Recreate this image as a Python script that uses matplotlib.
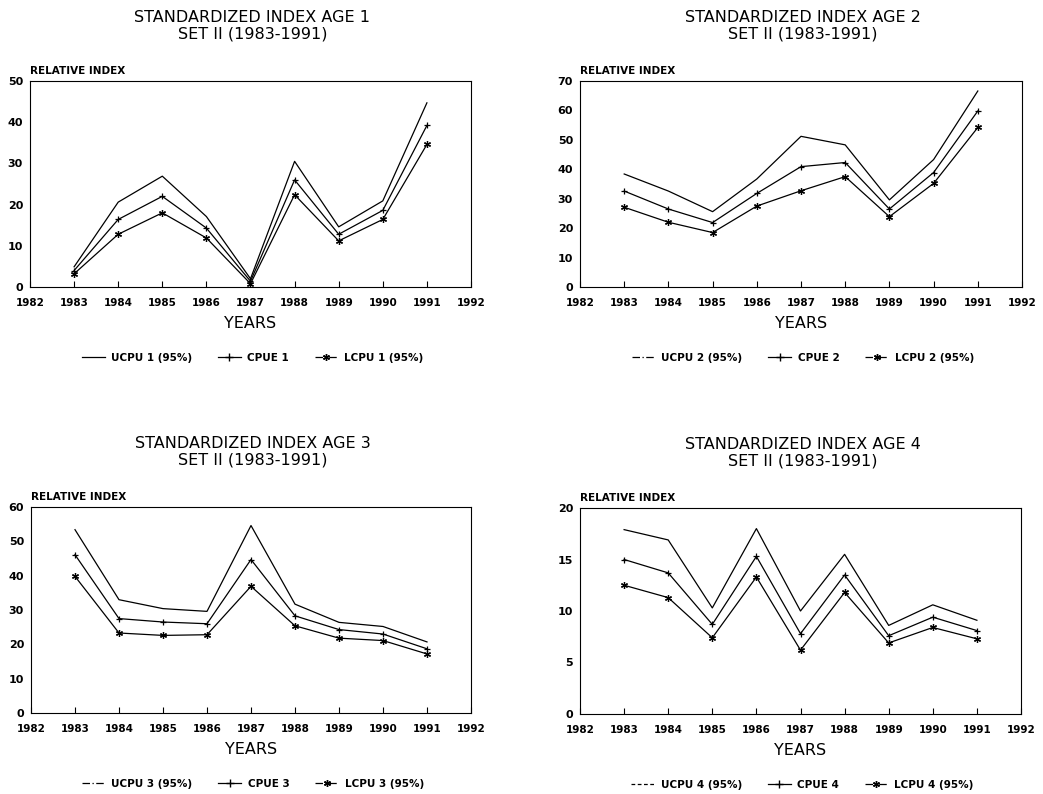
import matplotlib.pyplot as plt
from matplotlib.lines import Line2D

plt.rcParams['font.family'] = ['DejaVu Sans']

years = [1983, 1984, 1985, 1986, 1987, 1988, 1989, 1990, 1991]
xticks = list(range(1982, 1993))

ucpu1 = [4.9, 20.6, 26.9, 17.1, 2.0, 30.5, 14.6, 20.9, 44.7]
cpue1 = [4.0, 16.4, 22.0, 14.3, 1.4, 26.0, 12.8, 18.6, 39.2]
lcpu1 = [3.2, 12.8, 18.0, 11.9, 0.8, 22.4, 11.2, 16.4, 34.6]

ucpu2 = [38.4, 32.6, 25.6, 36.7, 51.2, 48.3, 29.6, 43.3, 66.6]
cpue2 = [32.6, 26.5, 21.9, 31.8, 40.9, 42.3, 26.5, 38.9, 59.8]
lcpu2 = [27.1, 22.0, 18.5, 27.5, 32.7, 37.5, 23.9, 35.2, 54.2]

ucpu3 = [53.4, 33.0, 30.4, 29.6, 54.6, 31.7, 26.4, 25.2, 20.7]
cpue3 = [46.1, 27.5, 26.5, 26.0, 44.7, 28.3, 24.3, 23.0, 18.7]
lcpu3 = [39.8, 23.3, 22.6, 22.8, 36.9, 25.4, 21.8, 21.1, 17.2]

ucpu4 = [17.9, 16.9, 10.3, 18.0, 10.0, 15.5, 8.6, 10.6, 9.1]
cpue4 = [15.0, 13.7, 8.7, 15.3, 7.8, 13.5, 7.6, 9.4, 8.1]
lcpu4 = [12.5, 11.3, 7.4, 13.3, 6.2, 11.8, 6.9, 8.4, 7.3]

panels = [
    (1, ucpu1, cpue1, lcpu1, 50, 10, '-'),
    (2, ucpu2, cpue2, lcpu2, 70, 10, (0, (6, 2, 1, 2))),
    (3, ucpu3, cpue3, lcpu3, 60, 10, (0, (6, 2, 1, 2))),
    (4, ucpu4, cpue4, lcpu4, 20, 5, (0, (3, 2))),
]

W, H = 1043, 794
fig = plt.figure(figsize=(W / 100, H / 100), dpi=100)
fig.patch.set_facecolor('white')

# axes boxes in pixels: left, top, right, bottom
boxes = [(30, 81, 471, 287), (580, 81, 1022, 287),
         (31, 507, 471, 713), (580, 508, 1021, 714)]

for (age, u, c, l, ymax, ystep, uls), (x0, y0, x1, y1) in zip(panels, boxes):
    ax = fig.add_axes([x0 / W, 1 - y1 / H, (x1 - x0) / W, (y1 - y0) / H])
    ax.plot(years, u, color='black', lw=0.9, ls='-')
    ax.plot(years, c, color='black', lw=0.9, marker='+', ms=5, mew=0.9)
    ax.plot(years, l, color='black', lw=0.9, marker=(6, 2, 0), ms=5, mew=0.9)
    ax.set_xlim(1982, 1992)
    ax.set_ylim(0, ymax)
    ax.set_xticks(xticks)
    ax.set_yticks(range(0, ymax + 1, ystep))
    ax.tick_params(axis='x', direction='in', length=4, width=0.8, pad=8,
                   labelsize=7.5)
    ax.tick_params(axis='y', length=0, pad=5, labelsize=8)
    for lab in ax.get_xticklabels() + ax.get_yticklabels():
        lab.set_fontweight('bold')
    for s in ax.spines.values():
        s.set_linewidth(0.8)
    ax.text(0, 1.025, 'RELATIVE INDEX', transform=ax.transAxes, fontsize=7.5,
            fontweight='bold', ha='left', va='bottom')
    ax.set_xlabel('YEARS', fontsize=11.5, labelpad=6)

    cx = (x0 + x1) / 2 + 2
    fig.text(cx / W, 1 - (y0 - 55) / H,
             'STANDARDIZED INDEX AGE %d\nSET II (1983-1991)' % age,
             ha='center', va='center', fontsize=11.5, linespacing=1.15)

    handles = [
        Line2D([], [], color='black', lw=0.9, ls=uls),
        Line2D([], [], color='black', lw=0.9, marker='+', ms=6),
        Line2D([], [], color='black', lw=0.9, ls=(0, (6, 2, 1, 2)),
               marker=(6, 2, 0), ms=5),
    ]
    labels = ['UCPU %d (95%%)' % age, 'CPUE %d' % age, 'LCPU %d (95%%)' % age]
    fig.legend(handles, labels, loc='center',
               bbox_to_anchor=(cx / W, 1 - (y1 + 71) / H), ncol=3,
               frameon=False, handlelength=2.2,
               columnspacing=2.5, handletextpad=0.6,
               prop={'weight': 'bold', 'size': 7.5})

fig.savefig('out.png', dpi=100, facecolor='white')
